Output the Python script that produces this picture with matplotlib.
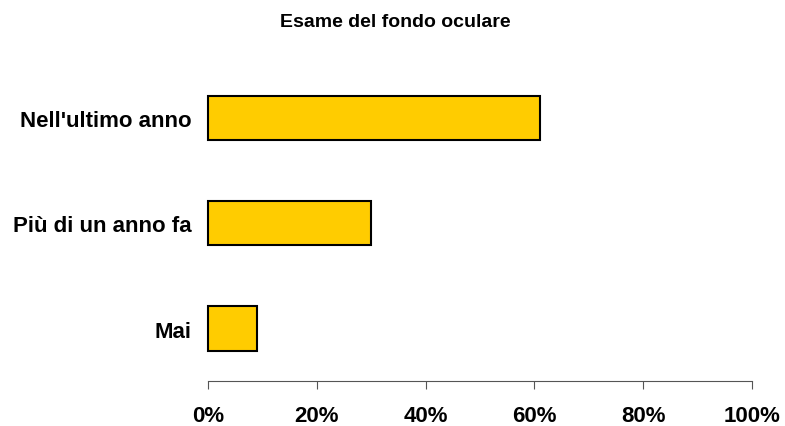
import matplotlib
matplotlib.use("Agg")
import matplotlib.pyplot as plt
from matplotlib.ticker import FuncFormatter

plt.rcParams['font.family'] = ['Liberation Sans', 'DejaVu Sans']

categories = ['Mai', 'Più di un anno fa', "Nell'ultimo anno"]
values = [9, 30, 61]
xticks = [0, 20, 40, 60, 80, 100]

fig = plt.figure(figsize=(7.85, 4.27), dpi=100)
ax = fig.add_axes([0.265, 0.105, 0.693, 0.74])

bars = ax.barh(range(len(categories)), values, height=0.42, color='#FFCC00',
               edgecolor='black', linewidth=1.5)
for b in bars:
    b.set_clip_on(False)

ax.set_xlim(0, 100)
ax.set_ylim(-0.5, len(categories) - 0.5)
ax.set_xticks(xticks)
ax.xaxis.set_major_formatter(FuncFormatter(lambda v, p: '%d%%' % v))
ax.set_yticks(range(len(categories)))
ax.set_yticklabels(categories)

for s in ('top', 'right', 'left'):
    ax.spines[s].set_visible(False)
ax.spines['bottom'].set_color('#555555')
ax.tick_params(axis='x', direction='out', length=6, color='#555555',
               labelsize=16, pad=11)
ax.tick_params(axis='y', length=0, labelsize=16, pad=12)
for lab in ax.get_xticklabels() + ax.get_yticklabels():
    lab.set_fontweight('bold')

fig.text(0.503, 0.948, 'Esame del fondo oculare', ha='center', va='center',
         fontsize=14, fontweight='bold')

fig.savefig('out.png', dpi=100)
